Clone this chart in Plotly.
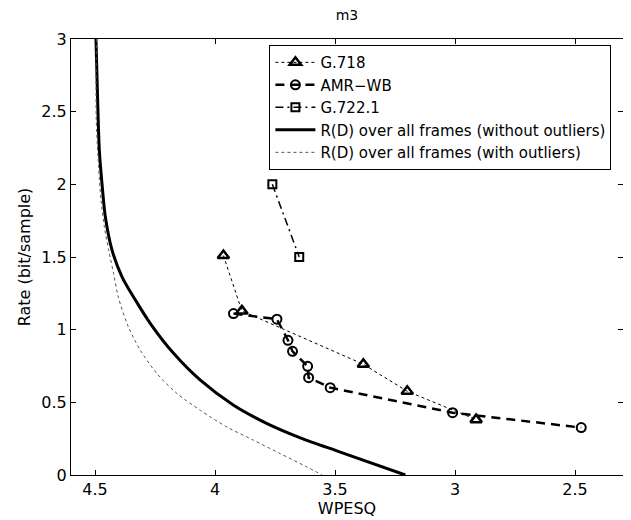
import plotly.graph_objects as go

# G.718
g718_x = [3.965, 3.888, 3.382, 3.199, 2.912]
g718_y = [1.51, 1.129, 0.762, 0.576, 0.381]

# AMR-WB
amr_x = [3.923, 3.742, 3.696, 3.677, 3.614, 3.610, 3.520, 3.010, 2.474]
amr_y = [1.111, 1.072, 0.927, 0.851, 0.748, 0.670, 0.601, 0.429, 0.326]

# G.722.1
g7221_x = [3.761, 3.649]
g7221_y = [2.0, 1.5]

# R(D) without outliers
rd_x = [4.496, 4.489, 4.482, 4.471, 4.457, 4.429, 4.3875, 4.332, 4.270, 4.1725,
        4.061, 3.9225, 3.783, 3.6446, 3.478, 3.207]
rd_y = [3.0, 2.580, 2.236, 2.007, 1.777, 1.547, 1.364, 1.205, 1.044, 0.837,
        0.652, 0.480, 0.354, 0.256, 0.158, 0.0]

# R(D) with outliers
rdo_x = [4.494, 4.495, 4.485, 4.475, 4.461, 4.443, 4.4225, 4.403, 4.361, 4.311,
         4.242, 4.158, 4.061, 3.950, 3.839, 3.728, 3.617, 3.553]
rdo_y = [3.0, 2.465, 2.12, 1.89, 1.707, 1.547, 1.386, 1.225, 1.019, 0.858,
         0.698, 0.56, 0.445, 0.33, 0.239, 0.147, 0.055, 0.0]

x_ticks = [4.5, 4, 3.5, 3, 2.5]
x_ticklabels = ["4.5", "4", "3.5", "3", "2.5"]
y_ticks = [0, 0.5, 1, 1.5, 2, 2.5, 3]
y_ticklabels = ["0", "0.5", "1", "1.5", "2", "2.5", "3"]

fig = go.Figure()
fig.add_trace(go.Scatter(x=g718_x, y=g718_y, mode="lines+markers", name="G.718",
                         line=dict(color="black", width=1, dash="dot"),
                         marker=dict(symbol="triangle-up-open", size=10, color="black",
                                     line=dict(width=2.5, color="black"))))
fig.add_trace(go.Scatter(x=amr_x, y=amr_y, mode="lines+markers", name="AMR\u2212WB",
                         line=dict(color="black", width=2.5, dash="9px,6px"),
                         marker=dict(symbol="circle-open", size=9, color="black",
                                     line=dict(width=2, color="black"))))
fig.add_trace(go.Scatter(x=g7221_x, y=g7221_y, mode="lines+markers", name="G.722.1",
                         line=dict(color="black", width=1.5, dash="8px,4px,2px,4px"),
                         marker=dict(symbol="square-open", size=8, color="black",
                                     line=dict(width=2, color="black"))))
fig.add_trace(go.Scatter(x=rd_x, y=rd_y, mode="lines",
                         name="R(D) over all frames (without outliers)",
                         line=dict(color="black", width=3, shape="spline", smoothing=0.8)))
fig.add_trace(go.Scatter(x=rdo_x, y=rdo_y, mode="lines",
                         name="R(D) over all frames (with outliers)",
                         line=dict(color="#555555", width=1, dash="dot", shape="spline",
                                   smoothing=0.8)))

font_family = "DejaVu Sans, Liberation Sans, Arial, sans-serif"
W, H = 623, 512  # page adds an 8px body margin
fig.update_layout(
    width=W, height=H,
    margin=dict(l=63, r=8, t=31, b=45),
    paper_bgcolor="white", plot_bgcolor="white",
    font=dict(family=font_family, size=16, color="black"),
    title=dict(text="m3", x=(63 + 615) / 2 / W, xanchor="center", y=1 - 7 / H,
               yanchor="middle", font=dict(size=14)),
    showlegend=True,
    legend=dict(x=0.979, y=0.986, xanchor="right", yanchor="top",
                bgcolor="white", bordercolor="black", borderwidth=1,
                font=dict(size=15), itemwidth=40, tracegroupgap=0),
    xaxis=dict(range=[4.6, 2.3], tickvals=x_ticks, ticktext=x_ticklabels,
               ticks="inside", ticklen=5, tickcolor="black", showgrid=False,
               zeroline=False, showline=True, linecolor="black", linewidth=1,
               mirror="ticks", title=dict(text="WPESQ", standoff=0, font=dict(size=16)),
               tickfont=dict(size=16)),
    yaxis=dict(range=[0, 3], tickvals=y_ticks, ticktext=y_ticklabels,
               ticks="inside", ticklen=5, tickcolor="black", showgrid=False,
               zeroline=False, showline=True, linecolor="black", linewidth=1,
               mirror="ticks", title=dict(text="Rate (bit/sample)", standoff=6,
                                          font=dict(size=16)),
               tickfont=dict(size=16)),
)

fig.write_html("out.html")
